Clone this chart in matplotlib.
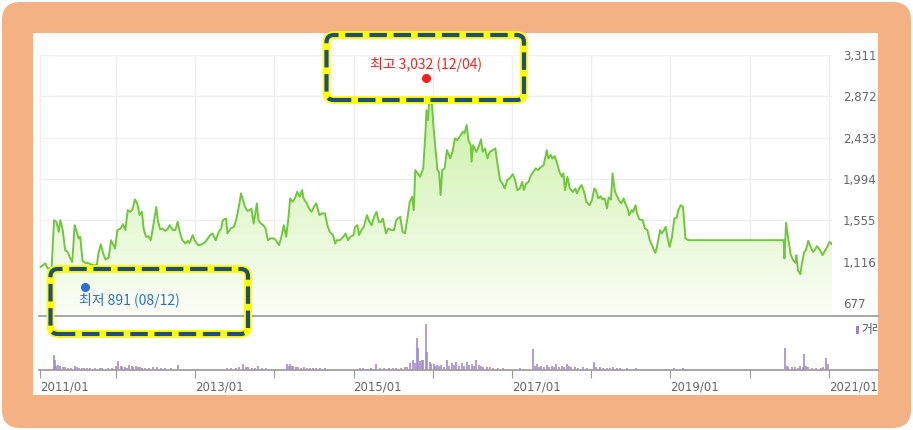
import numpy as np
import matplotlib
matplotlib.use("Agg")
import matplotlib.pyplot as plt
from matplotlib.patches import FancyBboxPatch, Rectangle
from matplotlib.lines import Line2D
import matplotlib.transforms as mtrans

plt.rcParams['font.family'] = ['Noto Sans CJK KR', 'DejaVu Sans']

# price line (decimal year, value)
years = [2011.05, 2011.08, 2011.11, 2011.14, 2011.17, 2011.19, 2011.22, 2011.25, 2011.28, 2011.30,
         2011.33, 2011.36, 2011.39, 2011.42, 2011.45, 2011.48, 2011.50, 2011.53, 2011.55, 2011.58,
         2011.62, 2011.66, 2011.71, 2011.76, 2011.78, 2011.81, 2011.84, 2011.87, 2011.91, 2011.94,
         2011.97, 2011.99, 2012.02, 2012.06, 2012.09, 2012.12, 2012.15, 2012.18, 2012.21, 2012.24,
         2012.27, 2012.30, 2012.33, 2012.35, 2012.38, 2012.41, 2012.44, 2012.47, 2012.51, 2012.53,
         2012.56, 2012.59, 2012.62, 2012.65, 2012.68, 2012.72, 2012.75, 2012.78, 2012.81, 2012.84,
         2012.88, 2012.91, 2012.93, 2012.97, 2013.00, 2013.04, 2013.09, 2013.13, 2013.16, 2013.19,
         2013.22, 2013.26, 2013.30, 2013.33, 2013.35, 2013.39, 2013.41, 2013.45, 2013.49, 2013.52,
         2013.56, 2013.58, 2013.63, 2013.66, 2013.69, 2013.71, 2013.74, 2013.78, 2013.80, 2013.83,
         2013.86, 2013.89, 2013.92, 2013.95, 2013.99, 2014.02, 2014.06, 2014.09, 2014.12, 2014.15,
         2014.18, 2014.20, 2014.23, 2014.26, 2014.29, 2014.32, 2014.35, 2014.37, 2014.41, 2014.44,
         2014.47, 2014.50, 2014.53, 2014.57, 2014.60, 2014.64, 2014.67, 2014.70, 2014.74, 2014.77,
         2014.79, 2014.83, 2014.87, 2014.90, 2014.93, 2014.96, 2015.00, 2015.02, 2015.05, 2015.07,
         2015.10, 2015.13, 2015.17, 2015.20, 2015.23, 2015.26, 2015.29, 2015.32, 2015.35, 2015.37,
         2015.41, 2015.44, 2015.48, 2015.51, 2015.54, 2015.56, 2015.59, 2015.62, 2015.65, 2015.68,
         2015.71, 2015.74, 2015.76, 2015.78, 2015.81, 2015.84, 2015.88, 2015.91, 2015.92, 2015.94,
         2015.96, 2015.99, 2016.01, 2016.03, 2016.06, 2016.08, 2016.10, 2016.12, 2016.15, 2016.18,
         2016.22, 2016.25, 2016.28, 2016.31, 2016.34, 2016.38, 2016.40, 2016.43, 2016.45, 2016.48,
         2016.49, 2016.51, 2016.55, 2016.58, 2016.61, 2016.63, 2016.66, 2016.69, 2016.72, 2016.76,
         2016.79, 2016.81, 2016.85, 2016.88, 2016.91, 2016.94, 2016.97, 2017.01, 2017.04, 2017.07,
         2017.10, 2017.13, 2017.15, 2017.18, 2017.21, 2017.24, 2017.27, 2017.30, 2017.33, 2017.36,
         2017.40, 2017.44, 2017.46, 2017.49, 2017.51, 2017.54, 2017.57, 2017.60, 2017.63, 2017.65,
         2017.67, 2017.70, 2017.73, 2017.77, 2017.80, 2017.82, 2017.86, 2017.88, 2017.91, 2017.94,
         2017.98, 2018.01, 2018.04, 2018.06, 2018.09, 2018.12, 2018.14, 2018.17, 2018.20, 2018.22,
         2018.25, 2018.27, 2018.30, 2018.32, 2018.35, 2018.38, 2018.41, 2018.43, 2018.46, 2018.48,
         2018.51, 2018.53, 2018.56, 2018.58, 2018.61, 2018.65, 2018.68, 2018.71, 2018.74, 2018.78,
         2018.81, 2018.83, 2018.87, 2018.89, 2018.92, 2018.94, 2018.97, 2018.99, 2019.02, 2019.05,
         2019.08, 2019.10, 2019.13, 2019.16, 2019.19, 2019.23, 2020.43, 2020.44, 2020.46, 2020.49,
         2020.52, 2020.55, 2020.58, 2020.59, 2020.61, 2020.64, 2020.66, 2020.69, 2020.71, 2020.74,
         2020.77, 2020.80, 2020.82, 2020.85, 2020.89, 2020.92, 2020.95, 2020.98, 2021.01, 2021.04]
prices = [1061, 1079, 1097, 1044, 1044, 1061, 1557, 1539, 1433, 1557,
          1451, 1238, 1220, 1161, 1114, 1504, 1451, 1363, 1380, 1124,
          1103, 1097, 1079, 1079, 1203, 1302, 1203, 1139, 1161, 1344,
          1291, 1256, 1451, 1469, 1515, 1451, 1663, 1645, 1671, 1777,
          1735, 1610, 1645, 1469, 1380, 1387, 1344, 1486, 1698, 1557,
          1458, 1469, 1443, 1458, 1504, 1451, 1451, 1539, 1422, 1344,
          1309, 1337, 1316, 1398, 1337, 1291, 1302, 1326, 1363, 1398,
          1416, 1344, 1433, 1469, 1557, 1575, 1416, 1469, 1486, 1564,
          1735, 1841, 1698, 1656, 1663, 1681, 1522, 1735, 1557, 1522,
          1504, 1469, 1344, 1363, 1363, 1344, 1291, 1380, 1504, 1380,
          1592, 1788, 1752, 1788, 1858, 1805, 1876, 1788, 1735, 1681,
          1645, 1698, 1735, 1610, 1628, 1628, 1504, 1433, 1398, 1309,
          1344, 1344, 1380, 1416, 1344, 1380, 1398, 1486, 1504, 1398,
          1451, 1486, 1610, 1539, 1504, 1592, 1645, 1539, 1539, 1575,
          1416, 1469, 1451, 1451, 1557, 1575, 1592, 1433, 1416, 1575,
          1752, 1805, 1663, 2089, 2053, 2017, 2107, 2514, 2726, 2620,
          2868, 2779, 2549, 2354, 2089, 2070, 1823, 2089, 2107, 2301,
          2213, 2283, 2426, 2407, 2443, 2496, 2479, 2567, 2407, 2354,
          2177, 2354, 2283, 2336, 2415, 2283, 2319, 2213, 2283, 2301,
          2319, 2195, 1982, 1947, 1894, 1982, 2000, 2046, 1982, 1876,
          1894, 1964, 1876, 1947, 1964, 2035, 2070, 2107, 2089, 2117,
          2142, 2301, 2213, 2248, 2213, 2237, 2160, 2070, 2017, 2053,
          1876, 2017, 1894, 1858, 1894, 1841, 1911, 1929, 1858, 1752,
          1716, 1770, 1894, 1876, 1788, 1812, 1777, 1788, 1681, 1798,
          1777, 2053, 1858, 1823, 1770, 1735, 1788, 1735, 1681, 1610,
          1663, 1645, 1716, 1628, 1564, 1557, 1469, 1451, 1344, 1267,
          1209, 1273, 1451, 1416, 1451, 1486, 1344, 1273, 1380, 1575,
          1586, 1663, 1716, 1698, 1363, 1344, 1344, 1150, 1528, 1344,
          1185, 1132, 1103, 1185, 1026, 983, 1097, 1220, 1238, 1337,
          1273, 1220, 1238, 1281, 1238, 1185, 1231, 1273, 1326, 1302]

# trading volume (relative)
vol_years = [2011.22, 2011.23, 2011.27, 2011.30, 2011.33, 2011.48, 2011.51, 2011.57, 2011.60, 2011.68,
             2011.80, 2011.83, 2011.95, 2012.00, 2012.03, 2012.06, 2012.11, 2012.17, 2012.20, 2012.25,
             2012.30, 2012.37, 2012.47, 2012.52, 2012.70, 2012.79, 2013.40, 2013.52, 2013.61, 2013.67,
             2013.80, 2013.90, 2014.16, 2014.20, 2014.24, 2014.30, 2014.41, 2014.53, 2014.64, 2015.08,
             2015.29, 2015.38, 2015.54, 2015.65, 2015.71, 2015.75, 2015.80, 2015.82, 2015.86, 2015.88,
             2015.91, 2015.93, 2015.96, 2016.01, 2016.05, 2016.11, 2016.18, 2016.24, 2016.30, 2016.37,
             2016.43, 2016.49, 2016.55, 2016.64, 2016.76, 2016.89, 2017.10, 2017.27, 2017.31, 2017.37,
             2017.44, 2017.50, 2017.56, 2017.63, 2017.69, 2017.80, 2017.90, 2018.03, 2018.11, 2018.20,
             2018.28, 2018.36, 2018.57, 2018.78, 2018.93, 2019.04, 2019.16, 2020.45, 2020.49, 2020.57,
             2020.64, 2020.69, 2020.74, 2020.84, 2020.96, 2020.99,
             2011.25, 2011.36, 2011.40, 2011.44, 2011.54, 2011.64, 2011.74, 2011.90, 2012.08, 2012.14,
             2012.22, 2012.28, 2012.33, 2012.42, 2012.57, 2012.62, 2013.45, 2013.56, 2013.64, 2013.72,
             2013.76, 2013.85, 2014.18, 2014.22, 2014.27, 2014.34, 2014.37, 2014.45, 2014.49, 2014.58,
             2015.12, 2015.17, 2015.22, 2015.33, 2015.45, 2015.50, 2015.60, 2015.68, 2015.78, 2015.84,
             2015.98, 2016.03, 2016.08, 2016.14, 2016.21, 2016.27, 2016.33, 2016.40, 2016.46, 2016.52,
             2016.58, 2016.61, 2016.68, 2016.72, 2016.82, 2016.95, 2017.29, 2017.34, 2017.40, 2017.47,
             2017.53, 2017.59, 2017.66, 2017.72, 2017.75, 2017.84, 2017.95, 2018.06, 2018.15, 2018.24,
             2018.32, 2018.45, 2020.47, 2020.53, 2020.61, 2020.67, 2020.71, 2020.79, 2020.90, 2020.93]
vol_values = [28, 19, 9, 7, 6, 7, 5, 4, 4, 4,
              4, 3, 4, 7, 17, 7, 6, 9, 7, 7,
              6, 4, 5, 5, 3, 9, 3, 4, 11, 5,
              7, 4, 11, 11, 7, 6, 4, 4, 3, 3,
              11, 4, 4, 5, 13, 19, 59, 40, 19, 19,
              85, 34, 15, 11, 9, 9, 19, 13, 15, 13,
              15, 11, 19, 5, 4, 3, 3, 38, 12, 7,
              9, 7, 12, 7, 12, 5, 5, 15, 5, 4,
              5, 4, 3, 2, 2, 3, 3, 40, 6, 5,
              7, 30, 5, 4, 22, 12,
              8, 5, 3, 3, 4, 3, 3, 3, 5, 4,
              6, 5, 4, 3, 3, 3, 3, 5, 6, 4,
              4, 3, 7, 8, 5, 4, 5, 3, 3, 3,
              3, 2, 3, 4, 3, 4, 4, 6, 13, 17,
              12, 8, 7, 6, 8, 9, 7, 8, 9, 7,
              10, 8, 6, 5, 3, 2, 8, 6, 5, 6,
              5, 6, 5, 7, 5, 4, 3, 6, 4, 3,
              4, 3, 8, 5, 4, 6, 7, 4, 3, 5]

y_ticks = [677, 1116, 1555, 1994, 2433, 2872, 3311]
x_ticks = [2011.04, 2012, 2013, 2014, 2015, 2016, 2017, 2018, 2019, 2020, 2021]
x_labels = ['2011/01', '', '2013/01', '', '2015/01', '', '2017/01', '', '2019/01', '', '2021/01']

hi_date, hi_val = 2015.92, 3032
lo_date, lo_val = 2011.61, 891

W, H = 913, 430
fig = plt.figure(figsize=(W / 100, H / 100), dpi=100)
fig.patch.set_facecolor('white')


def fx(px):
    return px / W


def fy(py):
    return 1 - py / H


# orange frame and white panel (behind the axes)
fig.patches.append(FancyBboxPatch((fx(2), fy(428)), fx(909), 426 / H,
                                  boxstyle="round,pad=0,rounding_size=0.02",
                                  transform=fig.transFigure, fc='#F4B183', ec='none',
                                  mutation_aspect=W / H, zorder=-3))
fig.patches.append(Rectangle((fx(33), fy(395)), fx(845), 362 / H, transform=fig.transFigure,
                             fc='white', ec='none', zorder=-2))

L, R = 39, 832
ax = fig.add_axes([fx(L), fy(316), fx(R - L), (316 - 55) / H])
axv = fig.add_axes([fx(L), fy(370), fx(R - L), (370 - 316) / H])

xmin, xmax = 2011.03, 2021.04
ymin, ymax = 539, 3311

# price panel
ax.set_xlim(xmin, xmax)
ax.set_ylim(ymin, ymax)
ax.patch.set_alpha(0)
for s in ax.spines.values():
    s.set_visible(False)
ax.set_xticks(x_ticks)
ax.set_xticklabels([])
ax.tick_params(axis='x', length=0)
ax.yaxis.tick_right()
ax.set_yticks(y_ticks)
ax.set_yticklabels([f'{v:,}' for v in y_ticks], color='#666666', fontsize=8.5,
                   family='DejaVu Sans')
ax.tick_params(axis='y', length=0, pad=8)
ax.grid(True, color='#efefef', lw=1)
ax.set_axisbelow(True)

grad = np.linspace(1, 0, 256).reshape(-1, 1)
cmap = matplotlib.colors.LinearSegmentedColormap.from_list('g', ['#fbfef7', '#c3ee9a'])
img = ax.imshow(grad, extent=[xmin, xmax, ymin, ymax], aspect='auto', cmap=cmap,
                origin='upper', zorder=1)
poly = ax.fill_between(years, prices, ymin, color='none', lw=0)
img.set_clip_path(poly.get_paths()[0], transform=ax.transData)
ax.plot(years, prices, color='#6fc83a', lw=1.4, zorder=3, solid_joinstyle='round')

up = mtrans.offset_copy(ax.transData, fig=fig, x=0, y=3, units='dots')
dn = mtrans.offset_copy(ax.transData, fig=fig, x=0, y=-4, units='dots')
ax.plot([hi_date], [hi_val], 'o', color='#ff1a1a', ms=5.5, transform=up, zorder=5, clip_on=False)
ax.plot([lo_date], [lo_val], 'o', color='#2a6fd6', ms=5.5, transform=dn, zorder=5, clip_on=False)
fig.text(fx(426), fy(65), f'최고 {hi_val:,} (12/04)', color='#ff2020', fontsize=10,
         ha='center', va='center')
fig.text(fx(79), fy(300), f'최저 {lo_val:,} (08/12)', color='#2a6fd6', fontsize=10,
         ha='left', va='center')

# volume panel
axv.set_xlim(xmin, xmax)
axv.set_ylim(0, 100)
axv.patch.set_alpha(0)
for s in axv.spines.values():
    s.set_visible(False)
axv.vlines(vol_years, 0, vol_values, color='#9b82cf', lw=1.1)
axv.set_yticks([])
axv.set_xticks(x_ticks)
axv.set_xticklabels(x_labels, color='#666666', fontsize=8.5, ha='left', family='DejaVu Sans')
axv.tick_params(axis='x', length=6, color='#999999', pad=1.5)

# separator and baseline lines across panel
fig.lines.append(Line2D([fx(L), fx(878)], [fy(316), fy(316)], transform=fig.transFigure,
                        color='#a0a0a0', lw=1.3))
fig.lines.append(Line2D([fx(L), fx(878)], [fy(370), fy(370)], transform=fig.transFigure,
                        color='#a0a0a0', lw=1.3))

# volume legend, clipped by panel edge
panel_clip = Rectangle((fx(33), fy(395)), fx(845), 362 / H, transform=fig.transFigure)
fig.patches.append(Rectangle((fx(856), fy(334)), fx(3), 8 / H, transform=fig.transFigure,
                             fc='#9b82cf', ec='none'))
t = fig.text(fx(861), fy(330), '거래량', color='#555555', fontsize=8.5, ha='left', va='center')
t.set_clip_path(panel_clip)

# dashed highlight boxes
for (x0, y0, x1, y1) in [(326.5, 35, 524, 100), (50.5, 269, 248, 334)]:
    for lw, col, ls in [(5.6, '#ffff00', '-'), (3.0, '#1f4e79', (0, (4.2, 1.6)))]:
        b = FancyBboxPatch((fx(x0), fy(y1)), fx(x1 - x0), (y1 - y0) / H,
                           boxstyle="round,pad=0,rounding_size=0.008",
                           mutation_aspect=W / H, transform=fig.transFigure,
                           fc='none', ec=col, lw=lw, ls=ls, zorder=10)
        fig.patches.append(b)

fig.savefig('out.png', dpi=100)
